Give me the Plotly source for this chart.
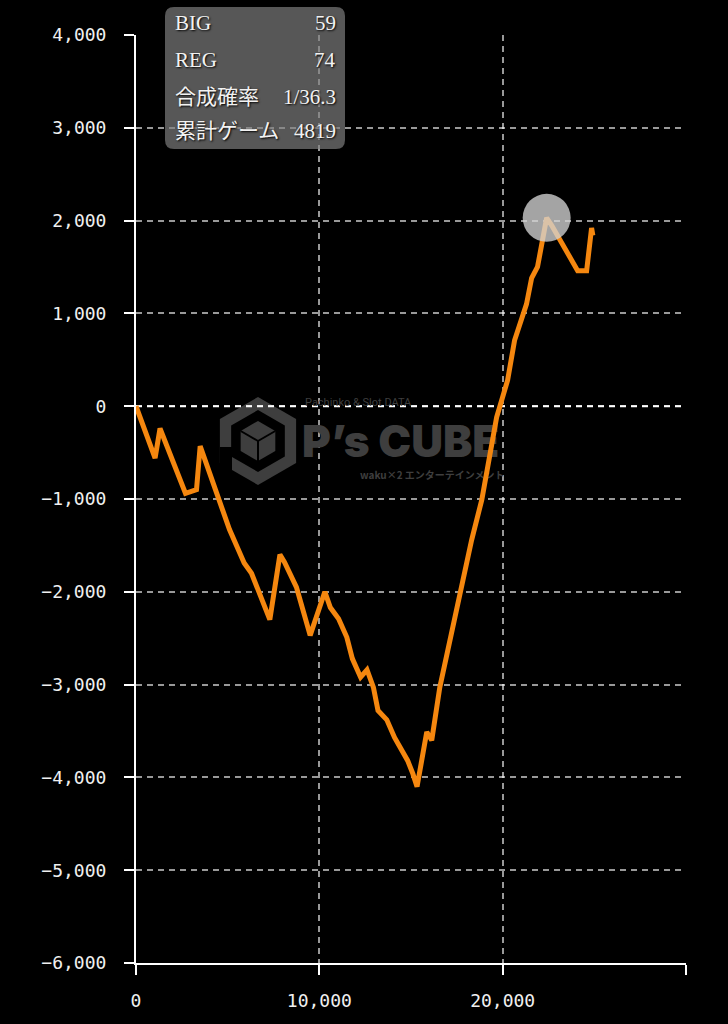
import plotly.graph_objects as go

# 累計ゲーム数と差枚数
games = [0, 1040, 1310, 2700, 3300, 3500, 5100, 5900, 6300, 7300, 7850, 8100,
         8750, 9500, 10300, 10600, 11050, 11500, 11800, 12250, 12600, 12950,
         13200, 13680, 14100, 14820, 15100, 15330, 15860, 16130, 16570, 17110,
         17660, 18310, 18860, 19290, 19670, 20270, 20650, 21300, 21580, 21900,
         22120, 22400, 22670, 24090, 24580, 24850, 24920]
diff = [0, -560, -240, -940, -900, -430, -1330, -1690, -1800, -2300, -1600, -1680,
        -1950, -2470, -2000, -2170, -2290, -2490, -2720, -2920, -2840, -3030,
        -3280, -3380, -3570, -3820, -3960, -4100, -3510, -3600, -3030, -2520,
        -2010, -1440, -1010, -550, -120, 280, 710, 1100, 1380, 1500,
        1710, 2030, 1950, 1460, 1460, 1920, 1840]

x_ticks = [0, 10000, 20000, 30000]
x_ticktext = ["0", "10,000", "20,000", ""]
y_ticks = [4000, 3000, 2000, 1000, 0, -1000, -2000, -3000, -4000, -5000, -6000]

info_labels = ["BIG", "REG", "合成確率", "累計ゲーム"]
info_values = ["59", "74", "1/36.3", "4819"]

W, H = 728, 1024
L, R, T, B = 136, 42, 35, 61
PW, PH = W - L - R, H - T - B


def px(x):
    return (x - L) / PW


def py(y):
    return (H - B - y) / PH


def dx(x):
    return (x - L) / PW * 30000


def dy(y):
    return 4000 - (y - T) / PH * 10000


fig = go.Figure()

# watermark text (drawn as a trace so the line stays on top)
fig.add_trace(go.Scatter(
    x=[dx(305), dx(302), dx(360)], y=[dy(403), dy(446), dy(476)],
    mode="text", text=["Pachinko &amp; Slot DATA", "P’s CUBE", "waku×2 エンターテインメント"],
    textposition="middle right",
    textfont=dict(family=["Roboto", "Inter", "Noto Sans CJK JP"], size=[11, 44, 10],
                  color="#3e3e3e", weight=[400, 900, 700]),
    hoverinfo="skip", showlegend=False, cliponaxis=False,
))

fig.add_trace(go.Scatter(
    x=games, y=diff, mode="lines",
    line=dict(color="#f5870f", width=5),
    showlegend=False,
))

imax = diff.index(max(diff))
fig.add_trace(go.Scatter(
    x=[games[imax]], y=[diff[imax]], mode="markers",
    marker=dict(size=48, color="rgba(210,210,210,0.78)"),
    showlegend=False,
))


def hexpath(cx, cy, r):
    pts = [(cx, cy - r), (cx + 0.866 * r, cy - r / 2), (cx + 0.866 * r, cy + r / 2),
           (cx, cy + r), (cx - 0.866 * r, cy + r / 2), (cx - 0.866 * r, cy - r / 2)]
    return "M " + " L ".join(f"{px(a):.4f},{py(b):.4f}" for a, b in pts) + " Z"


shapes = []
cx, cy = 258, 441
shapes.append(dict(type="path", path=hexpath(cx, cy, 44), xref="paper", yref="paper",
                   fillcolor="#3e3e3e", line=dict(width=0), layer="below"))
shapes.append(dict(type="path", path=hexpath(cx, cy, 31), xref="paper", yref="paper",
                   fillcolor="#000000", line=dict(width=0), layer="below"))
shapes.append(dict(type="path", path=hexpath(cx, cy, 20), xref="paper", yref="paper",
                   fillcolor="#3e3e3e", line=dict(width=0), layer="below"))
# cube edges
for (a, b) in [((cx, cy), (cx, cy + 20)), ((cx, cy), (cx - 17.3, cy - 10)), ((cx, cy), (cx + 17.3, cy - 10))]:
    shapes.append(dict(type="line", x0=px(a[0]), y0=py(a[1]), x1=px(b[0]), y1=py(b[1]),
                       xref="paper", yref="paper", line=dict(color="#000", width=2), layer="below"))
shapes.append(dict(type="rect", x0=px(cx - 38.1), x1=px(cx - 26), y0=py(cy + 6), y1=py(cy + 40),
                   xref="paper", yref="paper", fillcolor="#000", line=dict(width=0), layer="below"))

# dashed zero line
shapes.append(dict(type="line", xref="paper", x0=0, x1=1, yref="y", y0=0, y1=0,
                   line=dict(color="#ffffff", width=2, dash="6px,5px"), layer="below"))

# info box with rounded corners
x0, x1, y0, y1, r = 165, 345, 7, 149, 9
p = (f"M {px(x0 + r)},{py(y0)} L {px(x1 - r)},{py(y0)} Q {px(x1)},{py(y0)} {px(x1)},{py(y0 + r)} "
     f"L {px(x1)},{py(y1 - r)} Q {px(x1)},{py(y1)} {px(x1 - r)},{py(y1)} "
     f"L {px(x0 + r)},{py(y1)} Q {px(x0)},{py(y1)} {px(x0)},{py(y1 - r)} "
     f"L {px(x0)},{py(y0 + r)} Q {px(x0)},{py(y0)} {px(x0 + r)},{py(y0)} Z")
shapes.append(dict(type="path", path=p, xref="paper", yref="paper",
                   fillcolor="rgba(128,128,128,0.68)", line=dict(width=0), layer="above"))

annotations = []
rows_y = [23, 60, 97, 131]
for lab, val, yy in zip(info_labels, info_values, rows_y):
    f = dict(family="Liberation Serif, Noto Sans CJK JP", size=21, color="#f2f2f2",
             shadow="1px 1px 2px #000")
    annotations.append(dict(x=px(173), y=py(yy), xref="paper", yref="paper", text=lab,
                            showarrow=False, xanchor="left", yanchor="middle", font=f))
    annotations.append(dict(x=px(338), y=py(yy), xref="paper", yref="paper", text=val,
                            showarrow=False, xanchor="right", yanchor="middle", font=f))

axis_font = dict(family="DejaVu Sans Mono", size=18, color="#f0f0f0")
fig.update_layout(
    width=W, height=H,
    margin=dict(l=L, r=R, t=T, b=B),
    paper_bgcolor="#000000", plot_bgcolor="#000000",
    shapes=shapes, annotations=annotations,
    xaxis=dict(range=[0, 30000], tickvals=x_ticks, ticktext=x_ticktext,
               showline=True, linecolor="#ffffff", linewidth=2,
               ticks="outside", ticklen=10, tickwidth=2, tickcolor="#ffffff",
               showgrid=True, gridcolor="rgba(255,255,255,0.6)", gridwidth=1.5, griddash="6px,5px",
               zeroline=False, tickfont=axis_font, ticklabelstandoff=10),
    yaxis=dict(range=[-6000, 4000], tickvals=y_ticks, tickformat=",",
               showline=True, linecolor="#ffffff", linewidth=2,
               ticks="outside", ticklen=10, tickwidth=2, tickcolor="#ffffff",
               showgrid=True, gridcolor="rgba(255,255,255,0.6)", gridwidth=1.5, griddash="6px,5px",
               zeroline=False, tickfont=axis_font, ticklabelstandoff=14),
    hovermode=False,
)

# page margin off so the chart fills the window
fig.write_html("out.html", config={"displayModeBar": False},
               post_script="document.body.style.margin='0';document.body.style.background='#000';")
